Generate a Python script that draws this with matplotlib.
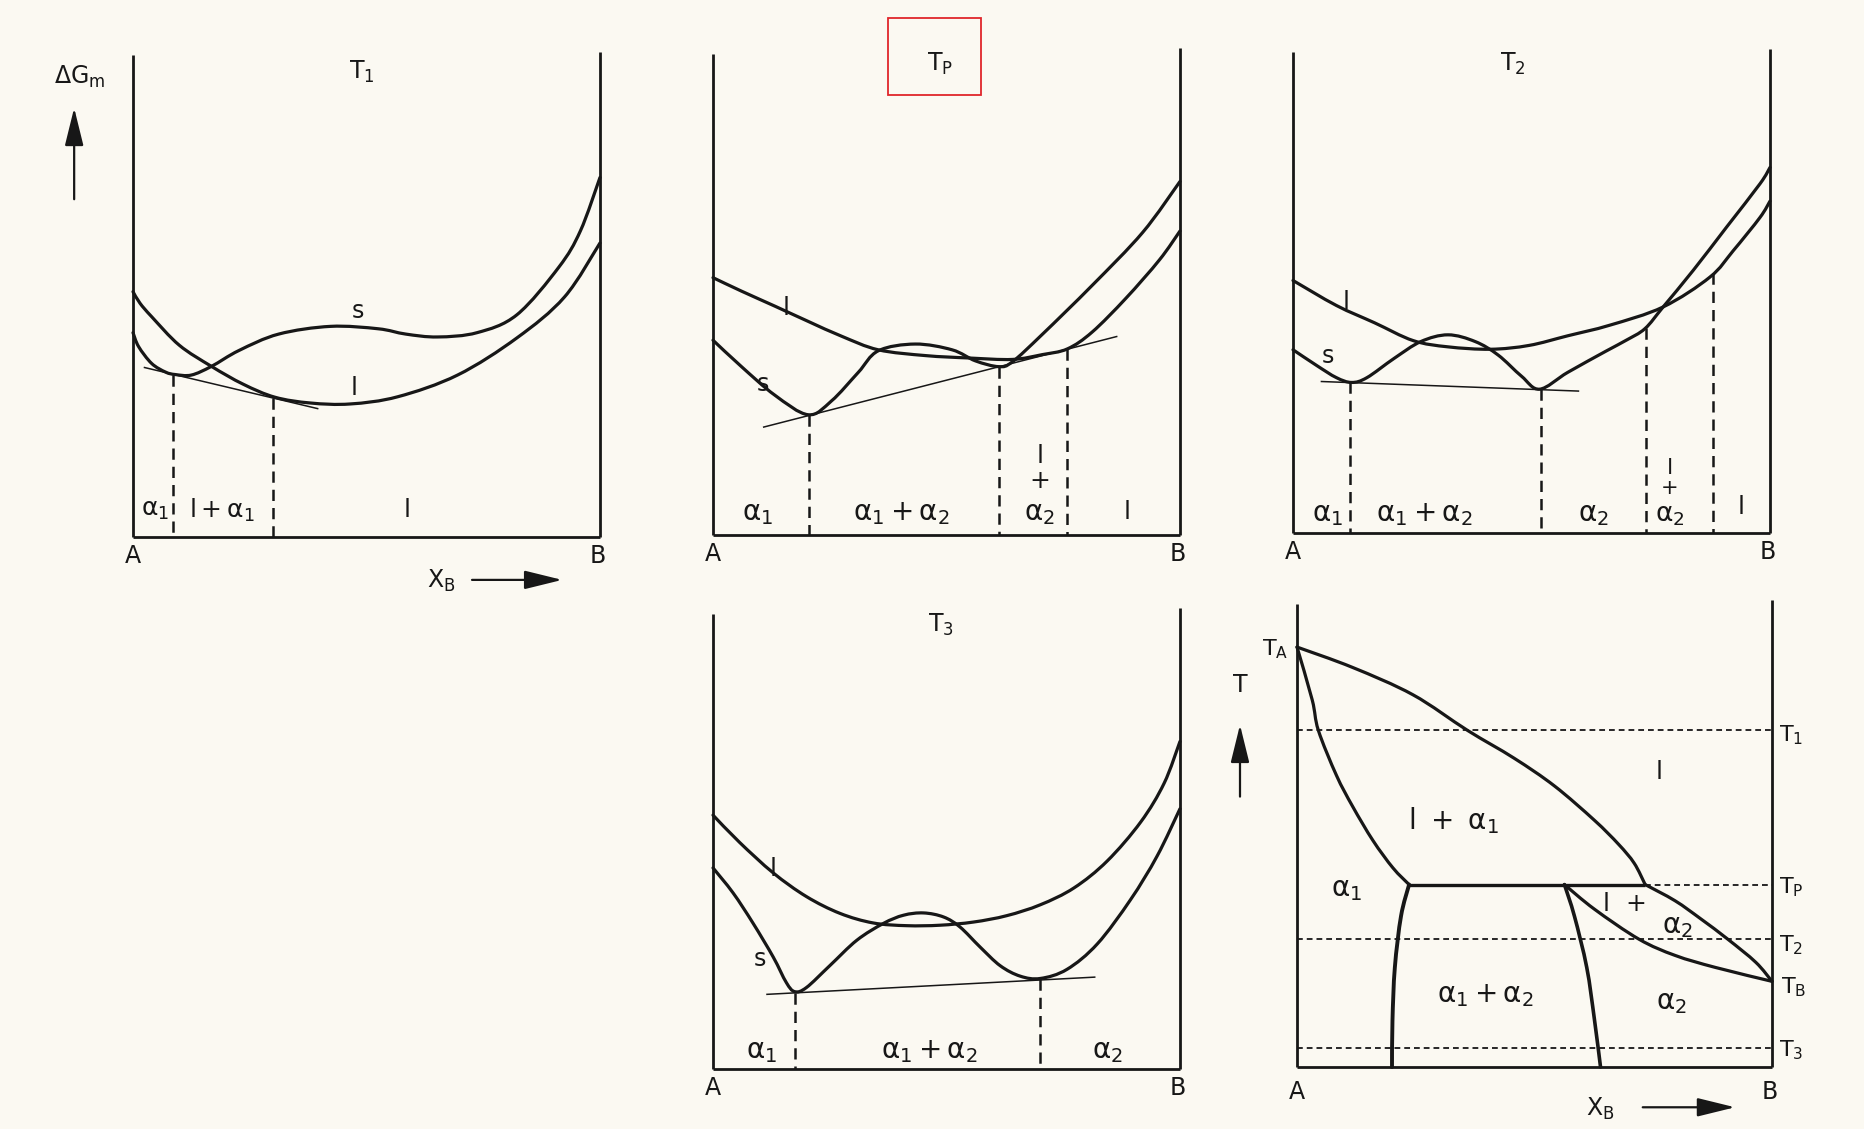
import numpy as np
import matplotlib
matplotlib.use("Agg")
import matplotlib.pyplot as plt
from matplotlib.path import Path
from matplotlib.patches import PathPatch, Rectangle, FancyArrowPatch

plt.rcParams["font.family"] = ["DejaVu Sans"]
plt.rcParams["mathtext.default"] = "regular"

# ---------------------------------------------------------------------------
# Free-energy curves, composition X_B (0 = A, 1 = B) vs. relative ΔG_m
# ---------------------------------------------------------------------------
# T1
T1_S_X = [0, 0.012, 0.04, 0.07, 0.091, 0.125, 0.168, 0.227, 0.312, 0.423, 0.525,
          0.584, 0.652, 0.737, 0.822, 0.912, 0.958, 1.0]
T1_S_G = [0.424, 0.395, 0.36, 0.342, 0.337, 0.336, 0.354, 0.387, 0.421, 0.437, 0.432,
          0.421, 0.415, 0.424, 0.461, 0.56, 0.635, 0.746]
T1_L_X = [0, 0.015, 0.04, 0.099, 0.168, 0.236, 0.304, 0.380, 0.465, 0.567, 0.695,
          0.822, 0.924, 1.0]
T1_L_G = [0.509, 0.485, 0.457, 0.398, 0.354, 0.317, 0.290, 0.278, 0.276, 0.291, 0.336,
          0.413, 0.498, 0.61]
T1_TAN_X = [0.023, 0.397]
T1_TAN_G = [0.352, 0.266]
T1_DASH_X = [0.085, 0.300]
T1_DASH_G = [0.337, 0.288]

# T_P
TP_L_X = [0, 0.061, 0.132, 0.204, 0.276, 0.354, 0.455, 0.548, 0.641, 0.705, 0.759,
          0.812, 0.884, 0.956, 1.0]
TP_L_G = [0.535, 0.507, 0.476, 0.444, 0.413, 0.385, 0.373, 0.368, 0.365, 0.375, 0.387,
          0.422, 0.492, 0.572, 0.632]
TP_S_X = [0, 0.061, 0.132, 0.204, 0.254, 0.311, 0.354, 0.433, 0.512, 0.562, 0.612,
          0.641, 0.705, 0.812, 0.920, 1.0]
TP_S_G = [0.405, 0.350, 0.291, 0.250, 0.279, 0.338, 0.383, 0.397, 0.385, 0.362, 0.350,
          0.360, 0.417, 0.519, 0.629, 0.735]
TP_TAN_X = [0.107, 0.866]
TP_TAN_G = [0.224, 0.413]
TP_DASH_X = [0.205, 0.613, 0.758]
TP_DASH_G = [0.249, 0.350, 0.386]

# T2
T2_L_X = [0, 0.091, 0.171, 0.252, 0.325, 0.414, 0.495, 0.576, 0.664, 0.776, 0.874,
          0.923, 0.979, 1.0]
T2_L_G = [0.525, 0.473, 0.437, 0.400, 0.387, 0.382, 0.390, 0.410, 0.432, 0.470, 0.532,
          0.587, 0.656, 0.69]
T2_S_X = [0, 0.050, 0.091, 0.123, 0.155, 0.212, 0.268, 0.325, 0.382, 0.430, 0.479,
          0.517, 0.576, 0.656, 0.699, 0.738, 0.776, 0.839, 0.909, 0.979, 1.0]
T2_S_G = [0.381, 0.348, 0.323, 0.313, 0.323, 0.363, 0.398, 0.412, 0.398, 0.370, 0.326,
          0.299, 0.334, 0.378, 0.401, 0.425, 0.470, 0.546, 0.636, 0.726, 0.76]
T2_TAN_X = [0.058, 0.600]
T2_TAN_G = [0.315, 0.295]
T2_DASH_X = [0.119, 0.519, 0.741, 0.881]
T2_DASH_G = [0.313, 0.299, 0.427, 0.540]

# T3
T3_L_X = [0, 0.057, 0.129, 0.200, 0.272, 0.343, 0.415, 0.486, 0.558, 0.629, 0.701,
          0.773, 0.844, 0.916, 0.966, 1.0]
T3_L_G = [0.558, 0.498, 0.431, 0.379, 0.342, 0.321, 0.315, 0.316, 0.323, 0.337, 0.361,
          0.398, 0.457, 0.543, 0.628, 0.72]
T3_S_X = [0, 0.043, 0.086, 0.129, 0.157, 0.175, 0.200, 0.250, 0.308, 0.365, 0.408,
          0.451, 0.494, 0.529, 0.572, 0.615, 0.658, 0.701, 0.758, 0.823, 0.894, 0.951, 1.0]
T3_S_G = [0.442, 0.387, 0.320, 0.246, 0.190, 0.170, 0.179, 0.227, 0.283, 0.320, 0.338,
          0.343, 0.334, 0.312, 0.268, 0.227, 0.204, 0.199, 0.219, 0.275, 0.372, 0.468, 0.572]
T3_TAN_X = [0.114, 0.819]
T3_TAN_G = [0.164, 0.202]
T3_DASH_X = [0.175, 0.700]
T3_DASH_G = [0.168, 0.197]

# ---------------------------------------------------------------------------
# Peritectic phase diagram, X_B vs. relative temperature
# ---------------------------------------------------------------------------
PD_LIQ1_X = [0, 0.117, 0.244, 0.359, 0.457, 0.542, 0.626, 0.677, 0.710, 0.733]
PD_LIQ1_T = [0.907, 0.863, 0.804, 0.727, 0.667, 0.607, 0.533, 0.481, 0.440, 0.394]
PD_LIQ2_X = [0.733, 0.796, 0.850, 0.907, 0.966, 1.0]
PD_LIQ2_T = [0.394, 0.359, 0.320, 0.276, 0.226, 0.185]
PD_SOL1_X = [0, 0.032, 0.045, 0.083, 0.117, 0.160, 0.202, 0.236]
PD_SOL1_T = [0.907, 0.793, 0.727, 0.630, 0.563, 0.489, 0.430, 0.394]
PD_SOL2_X = [0.563, 0.626, 0.720, 0.796, 0.881, 1.0]
PD_SOL2_T = [0.394, 0.341, 0.276, 0.241, 0.215, 0.185]
PD_SOLV1_X = [0.236, 0.219, 0.206, 0.201, 0.200]
PD_SOLV1_T = [0.394, 0.326, 0.215, 0.100, 0.0]
PD_SOLV2_X = [0.563, 0.584, 0.610, 0.626, 0.639]
PD_SOLV2_T = [0.394, 0.326, 0.215, 0.104, 0.0]
PD_PERI_X = [0.236, 0.733]
PD_T_A, PD_T_B = 0.907, 0.185
PD_ISO_NAMES = ["T_1", "T_P", "T_2", "T_3"]
PD_ISO_T = [0.727, 0.394, 0.276, 0.042]
PD_ISO_START = [0.0, 0.733, 0.0, 0.0]

# ---------------------------------------------------------------------------
W, H = 1865, 1129
INK = "#171717"
PAPER = "#fbf9f2"
CURVE_LW = 2.3
FRAME_LW = 2.0
TAN_LW = 1.1

fig = plt.figure(figsize=(W / 100, H / 100), dpi=100)
fig.patch.set_facecolor(PAPER)


def make_panel(left, right, bottom, top):
    ax = fig.add_axes([left / W, 1 - bottom / H, (right - left) / W, (bottom - top) / H])
    ax.set_xlim(0, 1)
    ax.set_ylim(0, 1)
    ax.set_axis_off()
    return ax


def smooth_path(xs, ys):
    p = np.column_stack([xs, ys]).astype(float)
    ext = np.vstack([p[0], p, p[-1]])
    verts = [p[0]]
    codes = [Path.MOVETO]
    for i in range(1, len(ext) - 2):
        p0, p1, p2, p3 = ext[i - 1], ext[i], ext[i + 1], ext[i + 2]
        verts += [p1 + (p2 - p0) / 6, p2 - (p3 - p1) / 6, p2]
        codes += [Path.CURVE4] * 3
    return Path(verts, codes)


def curve(ax, xs, ys, lw=CURVE_LW):
    ax.add_patch(PathPatch(smooth_path(xs, ys), fill=False, lw=lw, edgecolor=INK,
                           capstyle="round", joinstyle="round", clip_on=False))


def line(ax, xs, ys, lw=FRAME_LW, **kw):
    ax.plot(xs, ys, color=INK, lw=lw, solid_capstyle="butt", clip_on=False, **kw)


def frame(ax, left_top=1.0, right_top=1.0):
    line(ax, [0, 0], [0, left_top])
    line(ax, [1, 1], [0, right_top])
    line(ax, [0, 1], [0, 0])


def txt(ax, x, y, s, size=17, **kw):
    kw.setdefault("ha", "center")
    kw.setdefault("va", "center")
    ax.text(x, y, s, fontsize=size, color=INK, clip_on=False, **kw)


def arrow(ax, p0, p1):
    ax.add_patch(FancyArrowPatch(p0, p1, arrowstyle="-|>,head_length=1.3,head_width=0.32",
                                 mutation_scale=18, lw=1.6, color=INK, clip_on=False))


def free_energy_panel(box, tops, title, title_pos, l_xy, s_xy, tan_xy, dash_xy,
                      l_lab, s_lab, ab_y=-0.04):
    ax = make_panel(*box)
    frame(ax, *tops)
    curve(ax, *l_xy)
    curve(ax, *s_xy)
    line(ax, tan_xy[0], tan_xy[1], lw=TAN_LW)
    for x, g in zip(*dash_xy):
        line(ax, [x, x], [g, 0], lw=1.8, linestyle=(0, (4.5, 2.8)))
    txt(ax, *title_pos, title, size=17)
    txt(ax, *l_lab, "l", size=18)
    txt(ax, *s_lab, "s", size=17)
    txt(ax, 0.0, ab_y, "A", size=17)
    txt(ax, 0.995, ab_y, "B", size=17)
    return ax


# T1 panel
ax1 = free_energy_panel((133, 600, 537, 55), (1.0, 1.006), "$T_1$", (0.49, 0.965),
                        (T1_L_X, T1_L_G), (T1_S_X, T1_S_G), (T1_TAN_X, T1_TAN_G),
                        (T1_DASH_X, T1_DASH_G), (0.474, 0.31), (0.482, 0.468))
txt(ax1, 0.047, 0.056, r"$\alpha_1$", size=18)
txt(ax1, 0.19, 0.056, r"$l+\alpha_1$", size=18)
txt(ax1, 0.586, 0.056, "l", size=18)
txt(ax1, -0.115, 0.955, r"$\Delta G_m$", size=17)
arrow(ax1, (-0.126, 0.695), (-0.126, 0.896))
txt(ax1, 0.66, -0.092, "$X_B$", size=17)
arrow(ax1, (0.72, -0.089), (0.925, -0.089))

# T_P panel
ax2 = free_energy_panel((713, 1180, 535, 54), (1.0, 1.012), "$T_P$", (0.486, 0.98),
                        (TP_L_X, TP_L_G), (TP_S_X, TP_S_G), (TP_TAN_X, TP_TAN_G),
                        (TP_DASH_X, TP_DASH_G), (0.157, 0.472), (0.107, 0.314))
txt(ax2, 0.096, 0.045, r"$\alpha_1$", size=20)
txt(ax2, 0.404, 0.045, r"$\alpha_1+\alpha_2$", size=20)
txt(ax2, 0.70, 0.165, "l", size=18)
txt(ax2, 0.70, 0.112, "+", size=18)
txt(ax2, 0.70, 0.045, r"$\alpha_2$", size=20)
txt(ax2, 0.886, 0.048, "l", size=18)

# T2 panel
ax3 = free_energy_panel((1293, 1770, 533, 52), (1.0, 1.006), "$T_2$", (0.461, 0.975),
                        (T2_L_X, T2_L_G), (T2_S_X, T2_S_G), (T2_TAN_X, T2_TAN_G),
                        (T2_DASH_X, T2_DASH_G), (0.111, 0.481), (0.074, 0.367))
txt(ax3, 0.073, 0.04, r"$\alpha_1$", size=20)
txt(ax3, 0.276, 0.04, r"$\alpha_1+\alpha_2$", size=20)
txt(ax3, 0.629, 0.04, r"$\alpha_2$", size=20)
txt(ax3, 0.79, 0.135, "l", size=16)
txt(ax3, 0.79, 0.094, "+", size=15)
txt(ax3, 0.79, 0.038, r"$\alpha_2$", size=19)
txt(ax3, 0.94, 0.054, "l", size=18)

# T3 panel
ax4 = free_energy_panel((713, 1180, 1069, 614), (1.0, 1.013), "$T_3$", (0.488, 0.975),
                        (T3_L_X, T3_L_G), (T3_S_X, T3_S_G), (T3_TAN_X, T3_TAN_G),
                        (T3_DASH_X, T3_DASH_G), (0.129, 0.439), (0.100, 0.242),
                        ab_y=-0.042)
txt(ax4, 0.104, 0.04, r"$\alpha_1$", size=20)
txt(ax4, 0.464, 0.04, r"$\alpha_1+\alpha_2$", size=20)
txt(ax4, 0.845, 0.04, r"$\alpha_2$", size=20)

# Phase diagram
ax5 = make_panel(1297, 1772, 1067, 604)
frame(ax5, 1.0, 1.009)
for name, t, x0 in zip(PD_ISO_NAMES, PD_ISO_T, PD_ISO_START):
    line(ax5, [x0, 1], [t, t], lw=1.3, linestyle=(0, (3.2, 2.2)))
curve(ax5, PD_LIQ1_X, PD_LIQ1_T)
curve(ax5, PD_LIQ2_X, PD_LIQ2_T)
curve(ax5, PD_SOL1_X, PD_SOL1_T)
curve(ax5, PD_SOL2_X, PD_SOL2_T)
curve(ax5, PD_SOLV1_X, PD_SOLV1_T, lw=2.8)
curve(ax5, PD_SOLV2_X, PD_SOLV2_T, lw=2.6)
line(ax5, PD_PERI_X, [PD_ISO_T[1]] * 2, lw=2.4)

side_y = {"T_1": 0.717, "T_P": 0.388, "T_2": 0.262, "T_3": 0.036}
for name in PD_ISO_NAMES:
    txt(ax5, 1.04, side_y[name], "$%s$" % name, size=16)
txt(ax5, 1.045, PD_T_B - 0.012, "$T_B$", size=16)
txt(ax5, -0.045, PD_T_A - 0.005, "$T_A$", size=16)
txt(ax5, -0.12, 0.826, "T", size=17)
arrow(ax5, (-0.12, 0.578), (-0.12, 0.745))
txt(ax5, 0.0, -0.053, "A", size=17)
txt(ax5, 0.995, -0.053, "B", size=17)
txt(ax5, 0.639, -0.09, "$X_B$", size=17)
arrow(ax5, (0.722, -0.087), (0.928, -0.087))

txt(ax5, 0.762, 0.637, "l", size=18)
txt(ax5, 0.329, 0.533, r"$l\ +\ \alpha_1$", size=20)
txt(ax5, 0.104, 0.385, r"$\alpha_1$", size=20)
txt(ax5, 0.69, 0.352, "l  +", size=18)
txt(ax5, 0.80, 0.305, r"$\alpha_2$", size=20)
txt(ax5, 0.397, 0.156, r"$\alpha_1+\alpha_2$", size=20)
txt(ax5, 0.788, 0.141, r"$\alpha_2$", size=20)

# highlight box around the T_P heading
fig.add_artist(Rectangle((888 / W, 1 - 95 / H), (981 - 888) / W, (95 - 18) / H,
                         transform=fig.transFigure, fill=False, edgecolor="#e0262b", lw=1.3))

fig.savefig("out.png", dpi=100, facecolor=PAPER)
